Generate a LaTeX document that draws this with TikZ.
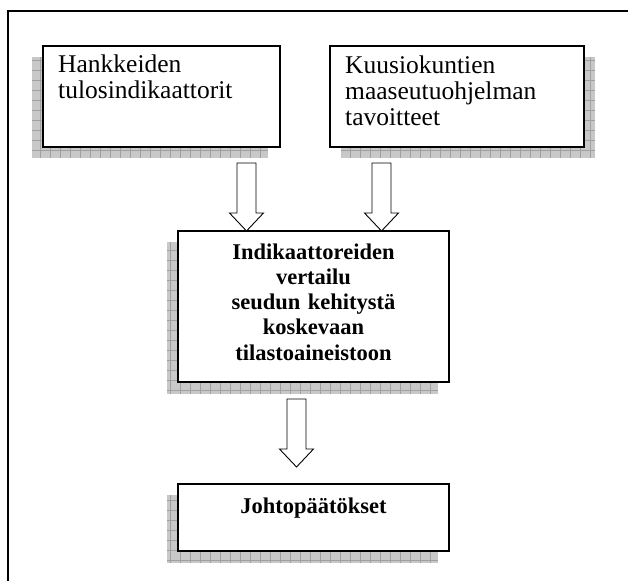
\documentclass[tikz,border=0pt]{standalone}
\usepackage{fontspec}
\setmainfont{Liberation Serif}
\definecolor{shadefill}{HTML}{C8C8C8}
\definecolor{shadegrid}{HTML}{A0A0A0}
\tikzset{
  panel/.style={rectangle, draw=black, line width=1.3pt, fill=white, inner sep=0pt},
  plaintext/.style={inner sep=0pt, font=\fontsize{25.5}{26}\selectfont},
  boldtext/.style={inner sep=0pt, font=\fontsize{22.5}{25.3}\selectfont\bfseries},
  hollowarrow/.style={draw=black, fill=white, line width=0.9pt, line join=miter},
  frameline/.style={line width=2pt, line cap=rect},
}
% hatched drop shadow: grey fill crossed by a 10pt grid
\newcommand\hatchshadow[4]{%
  \fill[shadefill] (#1,#2) rectangle (#3,#4);
  \begin{scope}
    \clip (#1,#2) rectangle (#3,#4);
    \draw[shadegrid, line width=0.6pt, step=10pt] (#1,#2) grid (#3,#4);
  \end{scope}}
% hollow block arrow pointing down; #1 = tip coordinate, #2 = total length
\newcommand\blockdown[2]{%
  \draw[hollowarrow] (#1) -- ++(-17,-18) -- ++(7.5,0) -- ++(0,-#2+18)
    -- ++(19,0) -- ++(0,#2-18) -- ++(7.5,0) -- cycle;}
\begin{document}
\begin{tikzpicture}[x=1pt, y=-1pt]
  \useasboundingbox (0,0) rectangle (628,580);
  \fill[white] (0,0) rectangle (628,580);

  % open frame (top and left edges)
  \draw[frameline] (8,590) -- (8,11) -- (640,11);

  % shadows
  \hatchshadow{32}{57}{268}{158}
  \hatchshadow{341}{57}{595}{158}
  \hatchshadow{167}{242}{438}{394}
  \hatchshadow{167}{495}{438}{563}

  % boxes
  \node[panel, minimum width=237pt, minimum height=101pt] (hank) at (161.5,96.5) {};
  \node[panel, minimum width=254pt, minimum height=101pt] (kuus) at (457,96.5) {};
  \node[panel, minimum width=271pt, minimum height=151pt] (indi) at (313.5,306.5) {};
  \node[panel, minimum width=271pt, minimum height=67pt] (joht) at (313.5,517.5) {};

  % texts
  \node[plaintext, anchor=base west, text width=215pt, align=left] (hanktxt) at (58,73)
    {Hankkeiden\\tulosindikaattorit};
  \node[plaintext, anchor=base west, text width=235pt, align=left] (kuustxt) at (345,74)
    {Kuusiokuntien\\maaseutuohjelman\\tavoitteet};
  \node[boldtext, anchor=base, text width=260pt, align=center] (inditxt) at (313.5,259)
    {Indikaattoreiden\\vertailu\\seudun kehitystä\\koskevaan\\tilastoaineistoon};
  \node[boldtext, anchor=base] (johttxt) at (313.5,513) {Johtopäätökset};

  % arrow tips resting on the boxes below
  \coordinate (tip1) at (246.5,231);
  \coordinate (tip2) at (381.5,231);
  \coordinate (tip3) at (296.5,467);
  \blockdown{tip1}{68}
  \blockdown{tip2}{68}
  \blockdown{tip3}{68}
\end{tikzpicture}
\end{document}
